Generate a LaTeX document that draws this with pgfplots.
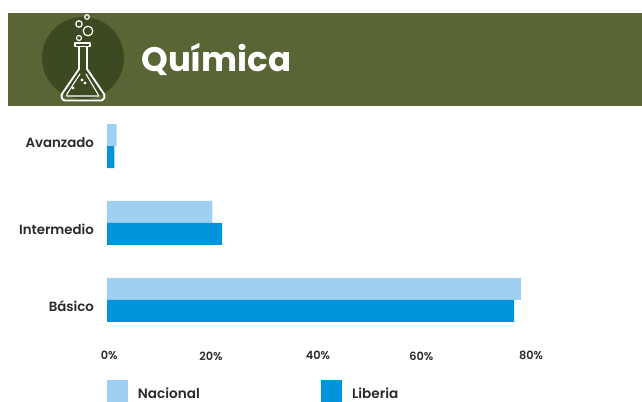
\documentclass[border=0pt]{standalone}
\usepackage{fontspec}
\usepackage{pgfplots}
\usepackage{pgfplotstable}
\pgfplotsset{compat=1.18}
\setmainfont{Poppins}[BoldFont={Poppins SemiBold}]
\newfontfamily\titlefont{Poppins Bold}
\definecolor{band}{HTML}{5A6535}
\definecolor{disc}{HTML}{3C4A22}
\definecolor{nacional}{HTML}{A0D0F1}
\definecolor{liberia}{HTML}{0094DA}
\definecolor{txt}{HTML}{2A2A2A}
\pgfplotstableread{
y nac lib
0 78.1 76.8
1 19.9 21.7
2 1.8 1.4
}\quimica
\begin{document}
\begin{tikzpicture}[x=0.75pt,y=-0.75pt]
\useasboundingbox (0,0) rectangle (642,402);
% header band and flask icon
\fill[band] (8,13) rectangle (642,106);
\fill[disc] (83,58) circle (41);
\begin{scope}[draw=white,line width=1.4pt,line join=round,line cap=round]
\draw (75,43) -- (90,43) -- (90,46.5) -- (75,46.5) -- cycle;
\draw (79,47) -- (79,69) -- (62,94) to[out=240,in=180] (65,100.5) -- (101,100.5) to[out=0,in=300] (104,94) -- (87,69) -- (87,47);
\draw[line width=0.8pt] (80,74) -- (67,94) -- (67,96) -- (99,96) -- (86,74);
\draw[line width=0.9pt] (87,17) circle (2.3) (79,24) circle (3.2) (88,31) circle (4.8) (79,38) circle (2.5);
\draw[line width=0.7pt] (82,80) circle (1) (85,83) circle (1) (73,88) circle (1);
\end{scope}
\node[anchor=west,text=white,font=\titlefont\fontsize{25.5pt}{28pt}\selectfont,inner sep=0pt] at (141,59) {Química};
\begin{axis}[
    at={(80.25pt,-255pt)},anchor=south west,
    scale only axis,
    width=397.5pt,height=175.5pt,
    xmin=0,xmax=100,
    ymin=-0.52,ymax=2.52,
    axis lines=left,
    axis line style={draw=none},
    xbar,
    % labels sit slightly off the bars in the original
    xtick={0.4,19.6,39.8,59.3,80},
    xticklabels={0\%,20\%,40\%,60\%,80\%},
    ytick={-0.08,0.92,2.05},
    yticklabels={Básico,Intermedio,Avanzado},
    xticklabel style={font=\bfseries\fontsize{8.5pt}{10pt}\selectfont,text=txt,yshift=-3pt},
    yticklabel style={font=\bfseries\fontsize{10pt}{11pt}\selectfont,text=txt,xshift=-2pt},
    tick style={draw=none},
    legend columns=2,
    legend style={at={(0,0)},anchor=north west,yshift=-30pt,draw=none,fill=none,inner sep=0pt,
        font=\bfseries\fontsize{10.2pt}{11pt}\selectfont,text=txt,
        nodes={yshift=-1.1pt},
        /tikz/every odd column/.append style={column sep=5.25pt},
        /tikz/every even column/.append style={column sep=89.25pt}},
    legend image code/.code={\fill[#1] (0pt,-7.15pt) rectangle (15.75pt,9.35pt);},
]
\addplot[draw=none,fill=nacional,bar width=16.5pt,bar shift=8.25pt] table[x=nac,y=y] {\quimica};
\addplot[draw=none,fill=liberia,bar width=16.5pt,bar shift=-8.25pt] table[x=lib,y=y] {\quimica};
\legend{Nacional,Liberia}
\end{axis}
\end{tikzpicture}
\end{document}
